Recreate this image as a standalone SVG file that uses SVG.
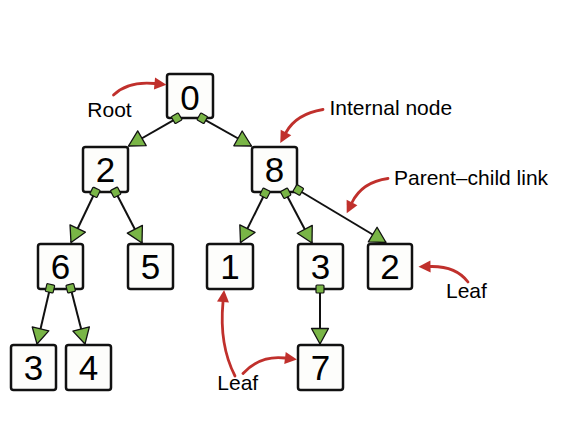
<svg xmlns="http://www.w3.org/2000/svg" width="584" height="436" viewBox="0 0 584 436">
  <style>
    .box { fill: #fdfdfb; stroke: #111; stroke-width: 2.5; }
    .num { font-family: "Liberation Sans", Arial, Helvetica, sans-serif; font-size: 35px; fill: #000; text-anchor: middle; }
    .lbl { font-family: "Liberation Sans", Arial, Helvetica, sans-serif; font-size: 21px; fill: #000; }
    .link { fill: none; stroke: #111; stroke-width: 2; marker-start: url(#tail); marker-end: url(#head); }
    .note { fill: none; stroke: #c0302c; stroke-width: 2.8; stroke-linecap: round; marker-end: url(#redhead); }
  </style>
  <defs>
    <!-- square tail marker sitting on the parent's border -->
    <marker id="tail" markerUnits="userSpaceOnUse" markerWidth="14" markerHeight="14" viewBox="-7 -7 14 14" refX="0" refY="0" orient="auto">
      <rect x="-4" y="-4" width="8" height="8" rx="1" fill="#79b546" stroke="#111" stroke-width="1.2"/>
    </marker>
    <!-- triangular head marker touching the child's border -->
    <marker id="head" markerUnits="userSpaceOnUse" markerWidth="20" markerHeight="22" viewBox="-17 -11 20 22" refX="0" refY="0" orient="auto">
      <path d="M0,0 L-15.5,-8.5 L-15.5,8.5 Z" fill="#79b546" stroke="#111" stroke-width="1.3" stroke-linejoin="round"/>
    </marker>
    <!-- annotation arrowhead -->
    <marker id="redhead" markerUnits="userSpaceOnUse" markerWidth="16" markerHeight="16" viewBox="-2 -8 16 16" refX="0" refY="0" orient="auto">
      <path d="M12,0 L0,-6 L0,6 Z" fill="#c0302c"/>
    </marker>
  </defs>

  <rect width="584" height="436" fill="#fff"/>

  <!-- tree nodes -->
  <g id="n0"><rect class="box" x="167" y="74" width="46" height="44" rx="2.5"/><text class="num" x="190" y="110">0</text></g>
  <g id="n2a"><rect class="box" x="83" y="147" width="45" height="45" rx="2.5"/><text class="num" x="105.5" y="182">2</text></g>
  <g id="n8"><rect class="box" x="252" y="147" width="45" height="45" rx="2.5"/><text class="num" x="274.5" y="182">8</text></g>
  <g id="n6"><rect class="box" x="38" y="244" width="45" height="45" rx="2.5"/><text class="num" x="60.5" y="279">6</text></g>
  <g id="n5"><rect class="box" x="128" y="244" width="45" height="45" rx="2.5"/><text class="num" x="150.5" y="279">5</text></g>
  <g id="n1"><rect class="box" x="207" y="244" width="46" height="45" rx="2.5"/><text class="num" x="230" y="279">1</text></g>
  <g id="n3a"><rect class="box" x="298" y="244" width="45" height="45" rx="2.5"/><text class="num" x="320.5" y="279">3</text></g>
  <g id="n2b"><rect class="box" x="368" y="244" width="44" height="45" rx="2.5"/><text class="num" x="390" y="279">2</text></g>
  <g id="n3b"><rect class="box" x="11" y="345" width="45" height="45" rx="2.5"/><text class="num" x="33.5" y="380">3</text></g>
  <g id="n4"><rect class="box" x="66" y="345" width="45" height="45" rx="2.5"/><text class="num" x="88.5" y="380">4</text></g>
  <g id="n7"><rect class="box" x="298" y="345" width="45" height="45" rx="2.5"/><text class="num" x="320.5" y="380">7</text></g>

  <!-- parent-child links -->
  <g id="links">
    <path class="link" d="M176.7,118.3 L128.5,146"/>
    <path class="link" d="M202.3,118.3 L251.5,146"/>
    <path class="link" d="M95,192.3 L71,242.5"/>
    <path class="link" d="M115.7,192.3 L142,243"/>
    <path class="link" d="M265,193.3 L240.5,242.5"/>
    <path class="link" d="M285.7,193.3 L312,243"/>
    <path class="link" d="M298.3,190 L386,242.5"/>
    <path class="link" d="M50,288.3 L37,344"/>
    <path class="link" d="M70.7,288.3 L85,344"/>
    <path class="link" d="M320,289 L320,344"/>
  </g>

  <!-- annotations -->
  <g id="annotations">
    <text class="lbl" x="87.3" y="116.7">Root</text>
    <path class="note" d="M113.5,95 Q128,81 154.5,83.5"/>

    <text class="lbl" x="329.5" y="115">Internal node</text>
    <path class="note" d="M323,109.5 Q296,114 286,132.5"/>

    <text class="lbl" x="394" y="185">Parent–child link</text>
    <path class="note" d="M388,178.5 Q362,182 352,202.5"/>

    <text class="lbl" x="446" y="298.3">Leaf</text>
    <path class="note" d="M468,282 Q456,266 430.5,266.5"/>

    <text class="lbl" x="217.3" y="390">Leaf</text>
    <path class="note" d="M235,376 Q219,345 223,302"/>
    <path class="note" d="M243,373.5 Q260,355 285,358"/>
  </g>
</svg>
